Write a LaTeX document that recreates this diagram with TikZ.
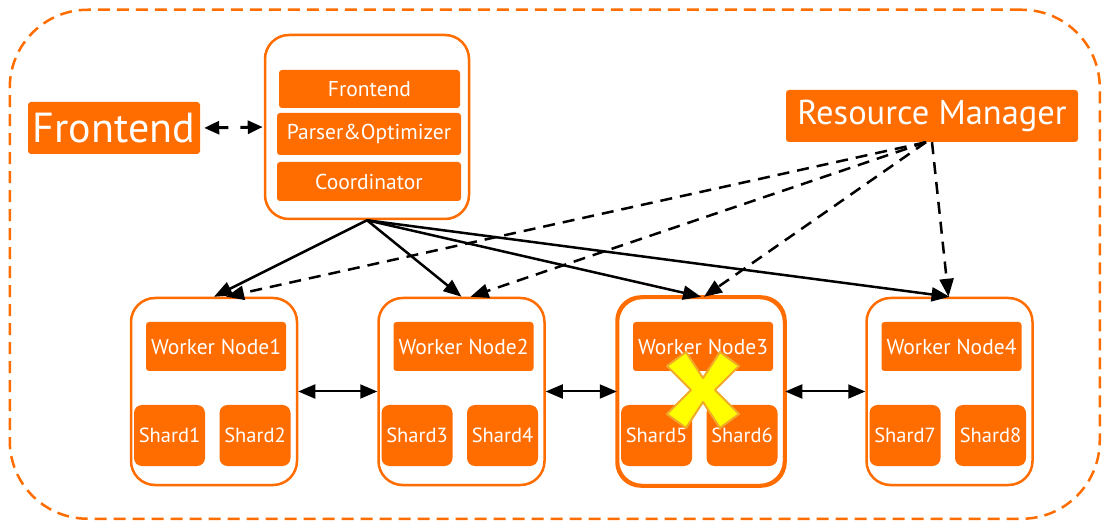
\documentclass[tikz,border=0pt]{standalone}
\usepackage{fontspec}
\setmainfont{PT Sans}
\usetikzlibrary{arrows.meta,positioning,calc}
\definecolor{aliorange}{RGB}{255,109,0}
\definecolor{crossyellow}{RGB}{255,255,0}
\definecolor{crossedge}{RGB}{240,170,40}

\begin{document}
\begin{tikzpicture}[x=1pt,y=-1pt,
    frame/.style={draw=aliorange, line width=2.5pt, dash pattern=on 12pt off 7pt, rounded corners=78pt, inner sep=0pt},
    box/.style={draw=aliorange, line width=2.5pt, fill=white, rounded corners=24pt, inner sep=0pt},
    bar/.style={fill=aliorange, text=white, rounded corners=3pt, inner sep=0pt, font=\fontsize{21.5}{21.5}\selectfont},
    shard/.style={fill=aliorange, text=white, rounded corners=8pt, inner sep=0pt, minimum width=71pt, minimum height=61pt, font=\fontsize{20.5}{20.5}\selectfont},
    label/.style={fill=aliorange, text=white, rounded corners=3pt, inner sep=0pt},
    ctl/.style={-{Triangle[length=18pt,width=14pt]}, line width=2.5pt},
    mgr/.style={-{Triangle[length=18pt,width=14pt]}, line width=2.5pt, dash pattern=on 12pt off 8pt},
    link/.style={{Triangle[length=17pt,width=14pt]}-{Triangle[length=17pt,width=14pt]}, line width=2pt},
    feed/.style={{Triangle[length=15pt,width=13pt]}-{Triangle[length=15pt,width=13pt]}, line width=3pt, dash pattern=on 10pt off 12pt},
    cross/.style={fill=crossyellow, draw=crossedge, line width=2pt, line join=round}]
    \useasboundingbox (0,0) rectangle (1112,529);
    \node[frame, minimum width=1090pt, minimum height=509pt] (cluster) at (554.75,264.25) {};
    % Coordinator side
    \node[label, minimum width=172pt, minimum height=52pt, font=\fontsize{42}{42}\selectfont] (fe) at (114,128) {Frontend};
    \node[box, minimum width=204pt, minimum height=184pt] (cn) at (367,127) {};
    \node[bar, minimum width=181pt, minimum height=38pt] (cnfe) at (369.5,89) {Frontend};
    \node[bar, minimum width=184pt, minimum height=42pt] (cnpo) at (369,134) {Parser\&Optimizer};
    \node[bar, minimum width=184pt, minimum height=39pt] (cnco) at (369,181.5) {Coordinator};
    \node[label, minimum width=292pt, minimum height=52pt, font=\fontsize{34.5}{34.5}\selectfont] (rm) at (932,116) {Resource Manager};
    % Workers
    \foreach \i/\x in {1/214,2/461.5,3/701,4/949.5}{
        \pgfmathtruncatemacro{\sa}{2*\i-1}
        \pgfmathtruncatemacro{\sb}{2*\i}
        \node[box, minimum width=166pt, minimum height=187pt] (w\i) at (\x,391.5) {};
        \node[bar, minimum width=140pt, minimum height=49pt] (wn\i) at (\x+2,346.5) {Worker Node\i};
        \node[shard] (s\sa) at (\x-44.5,435.5) {Shard\sa};
        \node[shard] (s\sb) at (\x+41,435.5) {Shard\sb};
    }
    \draw[aliorange, line width=3pt, rounded corners=24pt] (w3.south west) rectangle (w3.north east);
    % Connectors
    \draw[feed, shorten <=4pt, shorten >=1pt] (fe.east) -- (cn.west);
    \foreach \i in {1,...,4}
        \draw[ctl] (cn.south) -- (w\i.north);
    \draw[mgr] ([xshift=-6pt]rm.south) -- ([xshift=12pt]w1.north);
    \draw[mgr] ([xshift=-6pt]rm.south) -- ([xshift=9pt]w2.north);
    \draw[mgr] ([xshift=-6pt]rm.south) -- ([xshift=3pt]w3.north);
    \draw[mgr] (rm.south) -- ([xshift=-1pt]w4.north);
    \draw[link] (w1.east) -- (w2.west);
    \draw[link] (w2.east) -- (w3.west);
    \draw[link] (w3.east) -- (w4.west);
    % Failed node
    \draw[cross, shift={(703,390)}] (-36,-24) -- (-17,-38) -- (0,-12) -- (17,-38) -- (36,-24) -- (12,0)
        -- (36,24) -- (17,38) -- (0,12) -- (-17,38) -- (-36,24) -- (-12,0) -- cycle;
\end{tikzpicture}
\end{document}
